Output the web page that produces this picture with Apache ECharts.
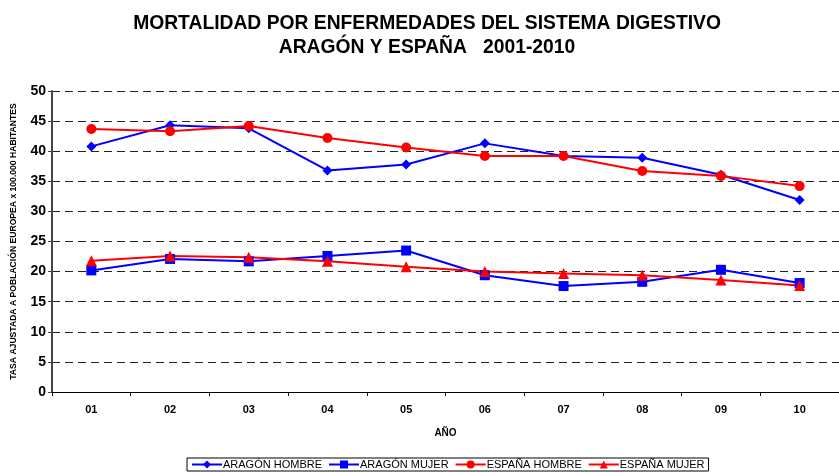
<!DOCTYPE html>
<html>
<head>
<meta charset="utf-8">
<script src="https://cdn.jsdelivr.net/npm/echarts@6/dist/echarts.min.js"></script>
<style>
  html, body { margin: 0; padding: 0; background: #fff; }
  #chart { width: 839px; height: 472px; }
</style>
</head>
<body>
<div id="chart"></div>
<script>
  var years = ['01', '02', '03', '04', '05', '06', '07', '08', '09', '10'];
  var aragonHombre = [40.8, 44.3, 43.8, 36.8, 37.8, 41.3, 39.2, 38.9, 36.1, 31.9];
  var aragonMujer = [20.2, 22.1, 21.7, 22.6, 23.5, 19.4, 17.6, 18.3, 20.3, 18.1];
  var espanaHombre = [43.7, 43.3, 44.2, 42.2, 40.6, 39.2, 39.2, 36.7, 35.9, 34.2];
  var espanaMujer = [21.8, 22.6, 22.4, 21.7, 20.8, 20.0, 19.7, 19.4, 18.6, 17.7];

  var font = 'Liberation Sans, Arial, sans-serif';
  var myChart = echarts.init(document.getElementById('chart'));

  function serie(name, data, color, symbol, size) {
    return {
      name: name,
      type: 'line',
      data: data,
      symbol: symbol,
      symbolSize: size,
      lineStyle: { color: color, width: 2 },
      itemStyle: { color: color },
      animation: false
    };
  }

  var option = {
    backgroundColor: '#fff',
    title: {
      text: 'MORTALIDAD POR ENFERMEDADES DEL SISTEMA DIGESTIVO\nARAGÓN Y ESPAÑA   2001-2010',
      left: 422,
      textAlign: 'center',
      top: 7,
      textStyle: { fontFamily: font, fontSize: 19.3, fontWeight: 'bold', color: '#000', lineHeight: 24 }
    },
    legend: {
      bottom: 1,
      left: 187,
      itemGap: 6,
      itemWidth: 30,
      itemHeight: 10,
      padding: [1, 4, 1, 4],
      borderColor: '#000',
      borderWidth: 1,
      textStyle: { fontFamily: font, fontSize: 11, color: '#000', padding: [0, 0, 0, -4] },
      data: ['ARAGÓN HOMBRE', 'ARAGÓN MUJER', 'ESPAÑA HOMBRE', 'ESPAÑA MUJER']
    },
    grid: { left: 52, right: -13, top: 91, bottom: 80 },
    xAxis: {
      type: 'category',
      data: years,
      boundaryGap: true,
      name: 'AÑO',
      nameLocation: 'middle',
      nameGap: 36,
      nameTextStyle: { fontFamily: font, fontSize: 10, fontWeight: 'bold', color: '#000' },
      axisLine: { lineStyle: { color: '#000', width: 1 } },
      axisTick: { show: true, length: 4, inside: false, lineStyle: { color: '#000' } },
      axisLabel: { fontFamily: font, fontSize: 11, fontWeight: 'bold', color: '#000', margin: 12 }
    },
    yAxis: {
      type: 'value',
      min: 0,
      max: 50,
      interval: 5,
      name: 'TASA AJUSTADA A POBLACIÓN EUROPEA x 100.000 HABITANTES',
      nameLocation: 'middle',
      nameGap: 34,
      nameTextStyle: { fontFamily: font, fontSize: 8.6, fontWeight: 'bold', color: '#000' },
      axisLine: { show: true, lineStyle: { color: '#444', width: 2 } },
      axisTick: { show: true, length: 4, lineStyle: { color: '#444' } },
      axisLabel: { fontFamily: font, fontSize: 14, fontWeight: 'bold', color: '#000', margin: 6 },
      splitLine: { show: true, lineStyle: { color: '#222', type: [8, 5], width: 1 } }
    },
    series: [
      serie('ARAGÓN HOMBRE', aragonHombre, '#0000ff', 'diamond', 10),
      serie('ARAGÓN MUJER', aragonMujer, '#0000ff', 'rect', 10),
      serie('ESPAÑA HOMBRE', espanaHombre, '#ff0000', 'circle', 10),
      serie('ESPAÑA MUJER', espanaMujer, '#ff0000', 'triangle', 11)
    ]
  };
  myChart.setOption(option);
</script>
</body>
</html>
